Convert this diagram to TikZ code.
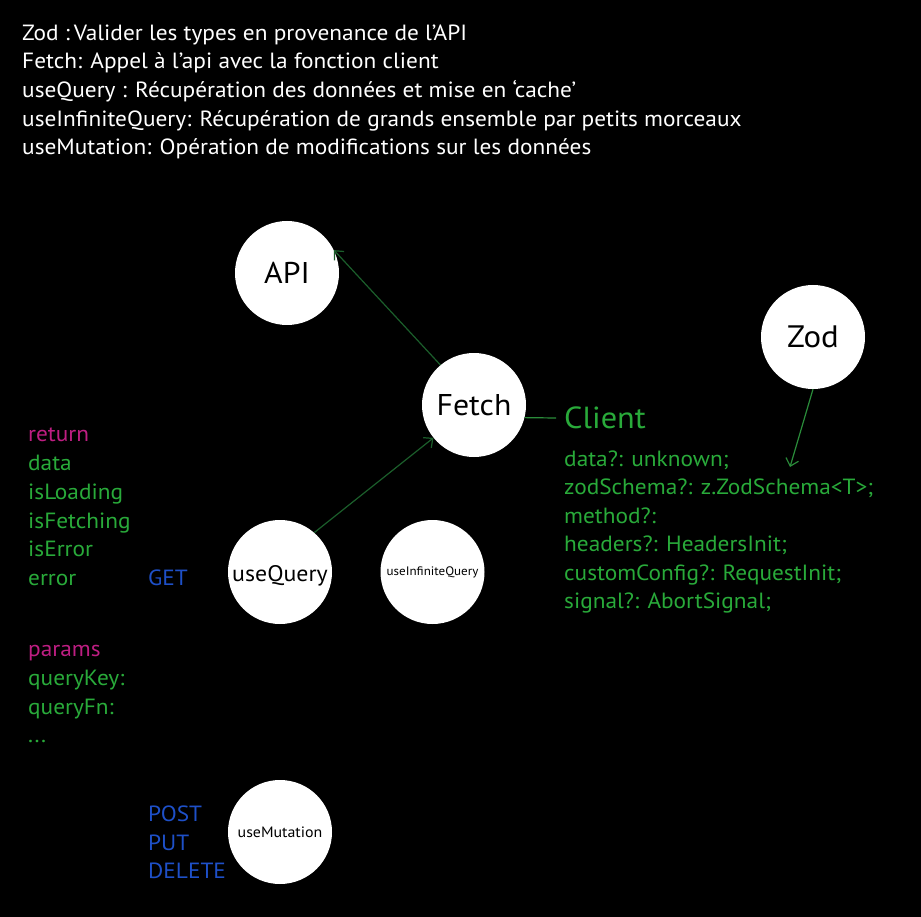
\documentclass[tikz,border=0pt]{standalone}
\usepackage{fontspec}
\setmainfont[FakeStretch=1.06]{PT Sans}
\usetikzlibrary{arrows.meta}
\definecolor{mag}{RGB}{190,30,130}
\definecolor{tgreen}{RGB}{41,170,58}
\definecolor{tblue}{RGB}{30,80,200}
\definecolor{dgreen}{RGB}{27,94,43}
\definecolor{mgreen}{RGB}{42,140,58}
\tikzset{
  txt/.style={anchor=base west, inner sep=0pt, font=\fontsize{22}{26}\selectfont, white},
  gtxt/.style={txt, tgreen},
  mtxt/.style={txt, mag},
  btxt/.style={txt, tblue},
  bubble/.style={circle, fill=white, draw=none, minimum size=104pt, inner sep=0pt, text=black},
  conn/.style={draw=dgreen, line width=1.2pt, -{Straight Barb[length=7pt,width=13pt]}},
}
\begin{document}
\begin{tikzpicture}[x=1pt,y=-1pt]
\fill[black] (0,0) rectangle (921,917);
\useasboundingbox (0,0) rectangle (921,917);
% header
\node[txt] (h1) at (22,40.5) {Zod :\,Valider les types en provenance de l’API};
\node[txt] (h2) at (22,69) {Fetch: Appel à l’api avec la fonction client};
\node[txt] (h3) at (22,98) {useQuery : Récupération des données et mise en ‘cache’};
\node[txt] (h4) at (22,126.5) {useInfiniteQuery: Récupération de grands ensemble par petits morceaux};
\node[txt] (h5) at (22,155) {useMutation: Opération de modifications sur les données};
% bubbles
\node[bubble, font=\fontsize{30}{32}\selectfont] (API) at (287,273) {API};
\node[bubble, font=\fontsize{30}{32}\selectfont] (Fetch) at (474,405) {Fetch};
\node[bubble, font=\fontsize{31}{32}\selectfont] (Zod) at (813,337) {Zod};
\node[bubble, font=\fontsize{22.5}{24}\selectfont] (useQuery) at (280,572) {\raisebox{-9.5pt}[0pt][0pt]{useQuery}};
\node[bubble, font=\fontsize{12.3}{13}\selectfont] (useInf) at (432.5,572) {useInfiniteQuery};
\node[bubble, font=\fontsize{15}{17}\selectfont] (useMut) at (280,832) {useMutation};
% client
\node[gtxt, font=\fontsize{30.5}{33}\selectfont] (Client) at (564,428) {Client};
\node[gtxt] (c1) at (564,466.5) {data?: unknown;};
\node[gtxt] (c2) at (564,494.5) {zodSchema?: z.ZodSchema<T>;};
\node[gtxt] (c3) at (564,523) {method?:};
\node[gtxt] (c4) at (564,551.5) {headers?: HeadersInit;};
\node[gtxt] (c5) at (564,580) {customConfig?: RequestInit;};
\node[gtxt] (c6) at (564,608.5) {signal?: AbortSignal;};
% left column
\node[mtxt] (ret) at (28,441.5) {return};
\node[gtxt] (l1) at (28,470) {data};
\node[gtxt] (l2) at (28,499) {isLoading};
\node[gtxt] (l3) at (28,528) {isFetching};
\node[gtxt] (l4) at (28,556.5) {isError};
\node[gtxt] (l5) at (28,585) {error};
\node[btxt] (get) at (148,585) {GET};
\node[mtxt] (par) at (28,656.5) {params};
\node[gtxt] (p1) at (28,685.5) {queryKey:};
\node[gtxt] (p2) at (28,714) {queryFn:};
\node[gtxt] (p3) at (28,742.5) {...};
\node[btxt] (post) at (148,821) {POST};
\node[btxt] (put) at (148,850) {PUT};
\node[btxt] (del) at (148,878.5) {DELETE};
% connectors
\coordinate (zodtip) at (790,467);
\coordinate (clientend) at (556,418);
\draw[conn] (Fetch.130) -- (API.26);
\draw[conn] (useQuery.49) -- (Fetch.219.6);
\draw[conn, draw=mgreen] (Zod.south) -- (zodtip);
\draw[draw=mgreen, line width=1.2pt] (Fetch.-14) -- (clientend);
\end{tikzpicture}
\end{document}
